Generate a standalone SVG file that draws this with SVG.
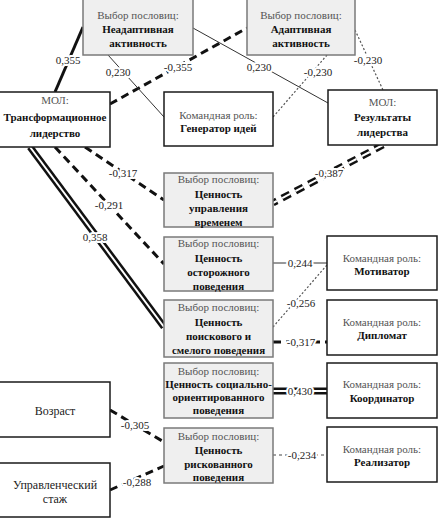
<svg xmlns="http://www.w3.org/2000/svg" width="439" height="519" viewBox="0 0 439 519" font-family="'Liberation Serif', 'Times New Roman', serif">
<defs>
<style>
.gbox{fill:#efefef;stroke:#7a7a7a;stroke-width:1.5}
.wbox{fill:#fff;stroke:#1a1a1a;stroke-width:1.5}
text{font-family:"Liberation Serif","Times New Roman",serif;font-size:11px;text-anchor:middle}
.g{fill:#555}
.b{font-weight:bold;fill:#111}
.n{fill:#222}
.lbl{fill:#222;stroke:#fff;stroke-width:4;paint-order:stroke;stroke-linejoin:round}
.thick{stroke:#111;stroke-width:3;fill:none}
.tdash{stroke:#111;stroke-width:3;fill:none;stroke-dasharray:8 5}
.thin{stroke:#333;stroke-width:1;fill:none}
.dot{stroke:#555;stroke-width:1.2;fill:none;stroke-dasharray:2 2}
.ldash{stroke:#444;stroke-width:1;fill:none;stroke-dasharray:3 3}
.dblo{stroke:#111;stroke-width:7;fill:none}
.dbli{stroke:#fff;stroke-width:2;fill:none}
</style>
</defs>
<rect width="439" height="519" fill="#fff"/>
<g id="connectors">
<line class="thick" x1="55" y1="92" x2="83" y2="27"/>
<line class="tdash" x1="110" y1="104" x2="247" y2="28"/>
<line class="thin" x1="108" y1="55" x2="164" y2="117"/>
<line class="thin" x1="193" y1="28" x2="328" y2="103"/>
<line class="dot" x1="327" y1="55" x2="273" y2="117"/>
<line class="dot" x1="355" y1="30" x2="383" y2="90"/>
<line class="tdash" x1="85" y1="147" x2="164" y2="200"/>
<line class="tdash" x1="55" y1="147" x2="164" y2="264"/>
<line class="dblo" x1="30" y1="147" x2="164" y2="327"/>
<line class="dbli" x1="30" y1="147" x2="164" y2="327"/>
<line class="dblo" x1="383" y1="145" x2="273" y2="203" stroke-dasharray="9 6"/>
<line class="dbli" x1="383" y1="145" x2="273" y2="203" stroke-dasharray="9 6"/>
<line class="thin" x1="273" y1="263" x2="327" y2="263"/>
<line class="dot" x1="273" y1="327" x2="327" y2="265"/>
<line class="tdash" x1="273" y1="342" x2="327" y2="342"/>
<line class="dblo" x1="273" y1="391" x2="327" y2="391"/>
<line class="dbli" x1="273" y1="391" x2="327" y2="391"/>
<line class="ldash" x1="273" y1="455" x2="327" y2="455"/>
<line class="tdash" x1="110" y1="410" x2="164" y2="442"/>
<line class="tdash" x1="110" y1="490" x2="164" y2="466"/>
<text class="lbl" x="68" y="64">0,355</text>
<text class="lbl" x="178" y="71">-0,355</text>
<text class="lbl" x="118" y="76">0,230</text>
<text class="lbl" x="259" y="71">0,230</text>
<text class="lbl" x="318" y="76">-0,230</text>
<text class="lbl" x="368" y="64">-0,230</text>
<text class="lbl" x="123" y="177">-0,317</text>
<text class="lbl" x="109" y="209">-0,291</text>
<text class="lbl" x="95" y="241">0,358</text>
<text class="lbl" x="329" y="177">-0,387</text>
<text class="lbl" x="300" y="267">0,244</text>
<text class="lbl" x="301" y="307">-0,256</text>
<text class="lbl" x="301" y="346">-0,317</text>
<text class="lbl" x="300" y="395">0,430</text>
<text class="lbl" x="302" y="459">-0,234</text>
<text class="lbl" x="135" y="429">-0,305</text>
<text class="lbl" x="137" y="486">-0,288</text>
</g>
<g id="n-neadapt">
<rect class="gbox" x="83" y="-1" width="110" height="56"/>
<text class="g" x="138" y="19">Выбор пословиц:</text>
<text class="b" x="138" y="33">Неадаптивная</text>
<text class="b" x="138" y="47">активность</text>
</g>
<g id="n-adapt">
<rect class="gbox" x="247" y="-1" width="108" height="56"/>
<text class="g" x="301" y="19">Выбор пословиц:</text>
<text class="b" x="301" y="33">Адаптивная</text>
<text class="b" x="301" y="47">активность</text>
</g>
<g id="n-transf">
<rect class="wbox" x="-1" y="92" width="111" height="55"/>
<text class="g" x="55" y="104">МОЛ:</text>
<text class="b" x="55" y="121">Трансформационное</text>
<text class="b" x="55" y="137">лидерство</text>
</g>
<g id="n-gen">
<rect class="wbox" x="164" y="92" width="109" height="54"/>
<text class="g" x="218.5" y="119">Командная роль:</text>
<text class="b" x="218.5" y="132">Генератор идей</text>
</g>
<g id="n-result">
<rect class="wbox" x="328" y="90" width="109" height="55"/>
<text class="g" x="382.5" y="106">МОЛ:</text>
<text class="b" x="382.5" y="121">Результаты</text>
<text class="b" x="382.5" y="136">лидерства</text>
</g>
<g id="n-time">
<rect class="gbox" x="164" y="173" width="109" height="54"/>
<text class="g" x="218.5" y="183">Выбор пословиц:</text>
<text class="b" x="218.5" y="198">Ценность</text>
<text class="b" x="218.5" y="212">управления</text>
<text class="b" x="218.5" y="226">временем</text>
</g>
<g id="n-careful">
<rect class="gbox" x="164" y="237" width="109" height="54"/>
<text class="g" x="218.5" y="247">Выбор пословиц:</text>
<text class="b" x="218.5" y="262">Ценность</text>
<text class="b" x="218.5" y="276">осторожного</text>
<text class="b" x="218.5" y="290">поведения</text>
</g>
<g id="n-search">
<rect class="gbox" x="164" y="300" width="109" height="57"/>
<text class="g" x="218.5" y="311">Выбор пословиц:</text>
<text class="b" x="218.5" y="326">Ценность</text>
<text class="b" x="218.5" y="340">поискового и</text>
<text class="b" x="218.5" y="354">смелого поведения</text>
</g>
<g id="n-social">
<rect class="gbox" x="164" y="363" width="109" height="55"/>
<text class="g" x="218.5" y="375">Выбор пословиц:</text>
<text class="b" x="218.5" y="388">Ценность социально-</text>
<text class="b" x="218.5" y="401">ориентированного</text>
<text class="b" x="218.5" y="414">поведения</text>
</g>
<g id="n-risk">
<rect class="gbox" x="164" y="428" width="109" height="55"/>
<text class="g" x="218.5" y="440">Выбор пословиц:</text>
<text class="b" x="218.5" y="454">Ценность</text>
<text class="b" x="218.5" y="468">рискованного</text>
<text class="b" x="218.5" y="481">поведения</text>
</g>
<g id="n-motiv">
<rect class="wbox" x="327" y="236" width="110" height="54"/>
<text class="g" x="382" y="262">Командная роль:</text>
<text class="b" x="382" y="275">Мотиватор</text>
</g>
<g id="n-dipl">
<rect class="wbox" x="327" y="300" width="110" height="55"/>
<text class="g" x="382" y="326">Командная роль:</text>
<text class="b" x="382" y="339">Дипломат</text>
</g>
<g id="n-coord">
<rect class="wbox" x="327" y="363" width="110" height="55"/>
<text class="g" x="382" y="388">Командная роль:</text>
<text class="b" x="382" y="402">Координатор</text>
</g>
<g id="n-real">
<rect class="wbox" x="327" y="427" width="110" height="55"/>
<text class="g" x="382" y="453">Командная роль:</text>
<text class="b" x="382" y="466">Реализатор</text>
</g>
<g id="n-age">
<rect class="wbox" x="-1" y="382" width="111" height="55"/>
<text class="n" x="55" y="415" style="font-size:12px">Возраст</text>
</g>
<g id="n-exp">
<rect class="wbox" x="-1" y="463" width="111" height="54"/>
<text class="n" x="55" y="489" style="font-size:12px">Управленческий</text>
<text class="n" x="55" y="503" style="font-size:12px">стаж</text>
</g>
</svg>
